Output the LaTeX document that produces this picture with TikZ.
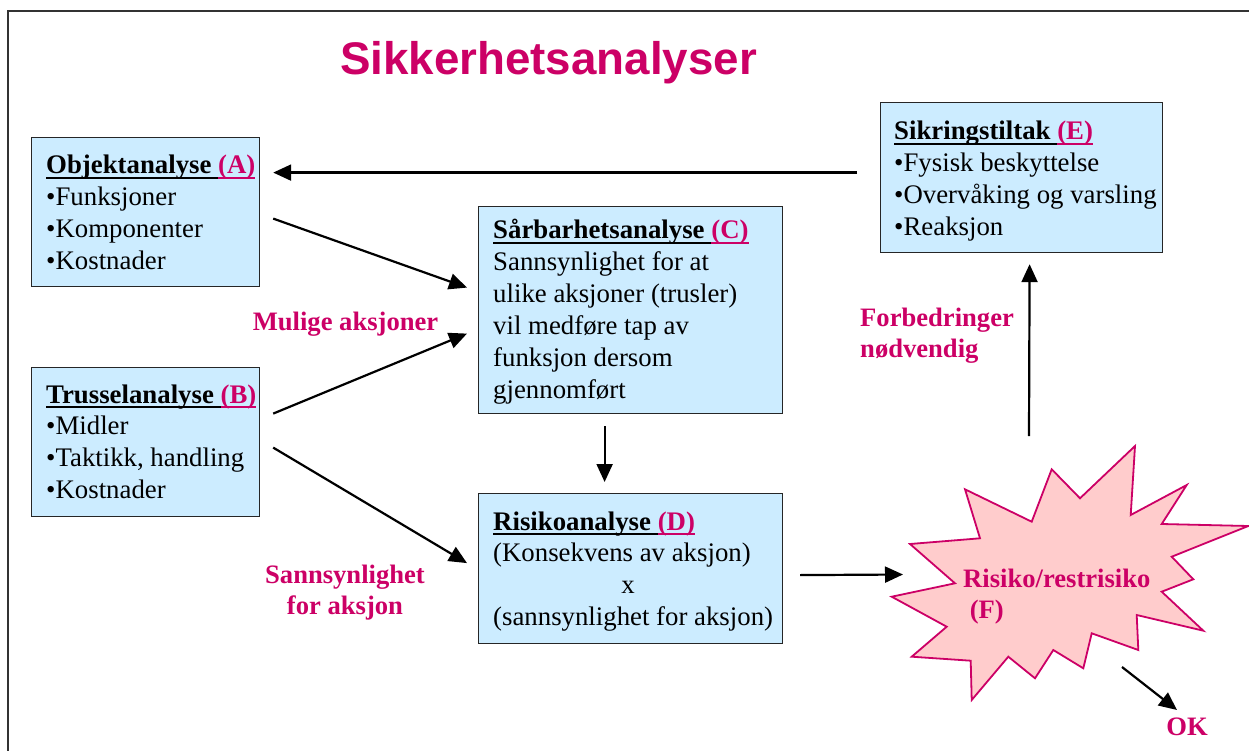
\documentclass[tikz,border=0pt]{standalone}
\usepackage{fontspec}
\setmainfont{Liberation Serif}
\newfontfamily\titlefont{Liberation Sans}
\usetikzlibrary{arrows.meta,calc}
\definecolor{mag}{RGB}{204,0,102}
\definecolor{boxblue}{RGB}{204,236,255}
\definecolor{starpink}{RGB}{255,204,204}
\definecolor{framegray}{RGB}{51,51,51}
\newcommand\ulk[1]{\setbox0=\hbox{#1}\rlap{\rule[-5.2pt]{\wd0}{2.2pt}}\box0}
\newcommand\boxhead[2]{\ulk{\bfseries #1\ }\textcolor{mag}{\ulk{\bfseries (#2)}}}
\newcommand\boxlines[1]{\vtop{\baselineskip=31.8pt\lineskiplimit=-50pt\lineskip=0pt\halign{##\hfil\cr#1\crcr}}}
\newcommand\lblines[1]{\vtop{\baselineskip=31pt\lineskiplimit=-50pt\lineskip=0pt\halign{##\hfil\cr#1\crcr}}}
\newcommand\centerlines[1]{\vtop{\baselineskip=31pt\lineskiplimit=-50pt\lineskip=0pt\halign{\hfil##\hfil\cr#1\crcr}}}
\tikzset{
  box/.style={draw=black!85, line width=1.2pt, fill=boxblue, anchor=north west, inner sep=0pt},
  txt/.style={anchor=base west, inner sep=0pt, font=\fontsize{26.8pt}{31.8pt}\selectfont},
  lbl/.style={inner sep=0pt, text=mag, font=\bfseries\fontsize{26.6pt}{31pt}\selectfont},
  arr/.style={line width=2.2pt, -{Triangle[length=18pt,width=16pt]}},
  frame/.style={draw=framegray, line width=1.6pt}
}
\begin{document}
\begin{tikzpicture}[x=1pt,y=-1pt]
\useasboundingbox (0,0) rectangle (1249,751);
\fill[white] (0,0) rectangle (1249,751);
\draw[frame] (1249,11) -- (8,11) -- (8,751);

\node[anchor=base, inner sep=0pt, text=mag, font=\titlefont\bfseries\fontsize{45.7pt}{50pt}\selectfont] (title) at (548.5,75) {Sikkerhetsanalyser};

% boxes
\node[box, minimum width=228pt, minimum height=149pt] (A) at (31,137) {};
\node[box, minimum width=228pt, minimum height=149pt] (B) at (31,367) {};
\node[box, minimum width=304pt, minimum height=207pt] (C) at (478,206) {};
\node[box, minimum width=304pt, minimum height=150pt] (D) at (478,493) {};
\node[box, minimum width=282pt, minimum height=150pt] (E) at (880,102) {};

\node[txt] (At) at (46,174) {\boxlines{\boxhead{Objektanalyse}{A}\cr •Funksjoner\cr •Komponenter\cr •Kostnader}};
\node[txt] (Bt) at (46,403) {\boxlines{\boxhead{Trusselanalyse}{B}\cr •Midler\cr •Taktikk, handling\cr •Kostnader}};
\node[txt] (Ct) at (493,239) {\boxlines{\boxhead{Sårbarhetsanalyse}{C}\cr Sannsynlighet for at\cr ulike aksjoner (trusler)\cr vil medføre tap av\cr funksjon dersom\cr gjennomført}};
\node[txt] (Dt) at (493,530) {\boxlines{\boxhead{Risikoanalyse}{D}\cr (Konsekvens av aksjon)\cr \hfil x\hskip10pt\cr (sannsynlighet for aksjon)}};
\node[txt] (Et) at (894,140) {\boxlines{\boxhead{Sikringstiltak}{E}\cr •Fysisk beskyttelse\cr •Overvåking og varsling\cr •Reaksjon}};

% star
\draw[draw=mag, line width=1.8pt, fill=starpink, line join=miter]
  (1135,446) -- (1130.7,515) -- (1186.7,485) -- (1161.7,524) -- (1248.3,526) -- (1171.7,556.7) -- (1193.3,579.3) -- (1161.7,591.7) -- (1203.3,630.7) -- (1136.7,615) -- (1138.3,650) -- (1091.7,633.3) -- (1083.3,668.3) -- (1053.3,650) -- (1035,678.3) -- (1008.3,656.7) -- (971.7,700) -- (970.7,660.7) -- (911.7,656.7) -- (946.7,626.7) -- (891.7,596.7) -- (955,583.3) -- (910,544) -- (980,538.3) -- (965,489.3) -- (1031.7,521.7) -- (1051.7,469.3) -- (1080,498.3) -- cycle;
\node[anchor=base west, inner sep=0pt, text=mag, font=\bfseries\fontsize{26.6pt}{33pt}\selectfont] (F) at (963,587) {\lblines{Risiko/restrisiko\cr \ (F)}};
\coordinate (Fin) at (903,574.5);
\coordinate (Ftop) at (1029,436);
\coordinate (Fout) at (1122,667);

% labels
\node[lbl, anchor=base] (mul) at (345.5,330) {Mulige aksjoner};
\node[lbl, anchor=base] (sann) at (345,583) {\centerlines{Sannsynlighet\cr for aksjon}};
\node[lbl, anchor=base west] (forb) at (860,326) {\lblines{Forbedringer\cr nødvendig}};
\node[lbl, anchor=base] (OK) at (1187,735) {OK};

% connectors
\draw[arr] ($(E.west)+(-23,-5)$) -- ($(A.east)+(13,-39.5)$);
\draw[arr] ($(A.east)+(13,6.5)$) -- ($(C.west)+(-11,-22.5)$);
\draw[arr] ($(B.east)+(13,-28.5)$) -- ($(C.west)+(-11,23.5)$);
\draw[arr] ($(B.east)+(13,5.5)$) -- ($(D.west)+(-11,-5.5)$);
\draw[arr] ($(C.south)+(-26,12)$) -- ($(D.north)+(-26,-11)$);
\draw[arr] ($(D.east)+(17,6.5)$) -- (Fin);
\draw[arr] (Ftop) -- ($(E.south)+(8,11)$);
\draw[arr] (Fout) -- ($(OK.base)+(-10,-25)$);
\end{tikzpicture}
\end{document}
